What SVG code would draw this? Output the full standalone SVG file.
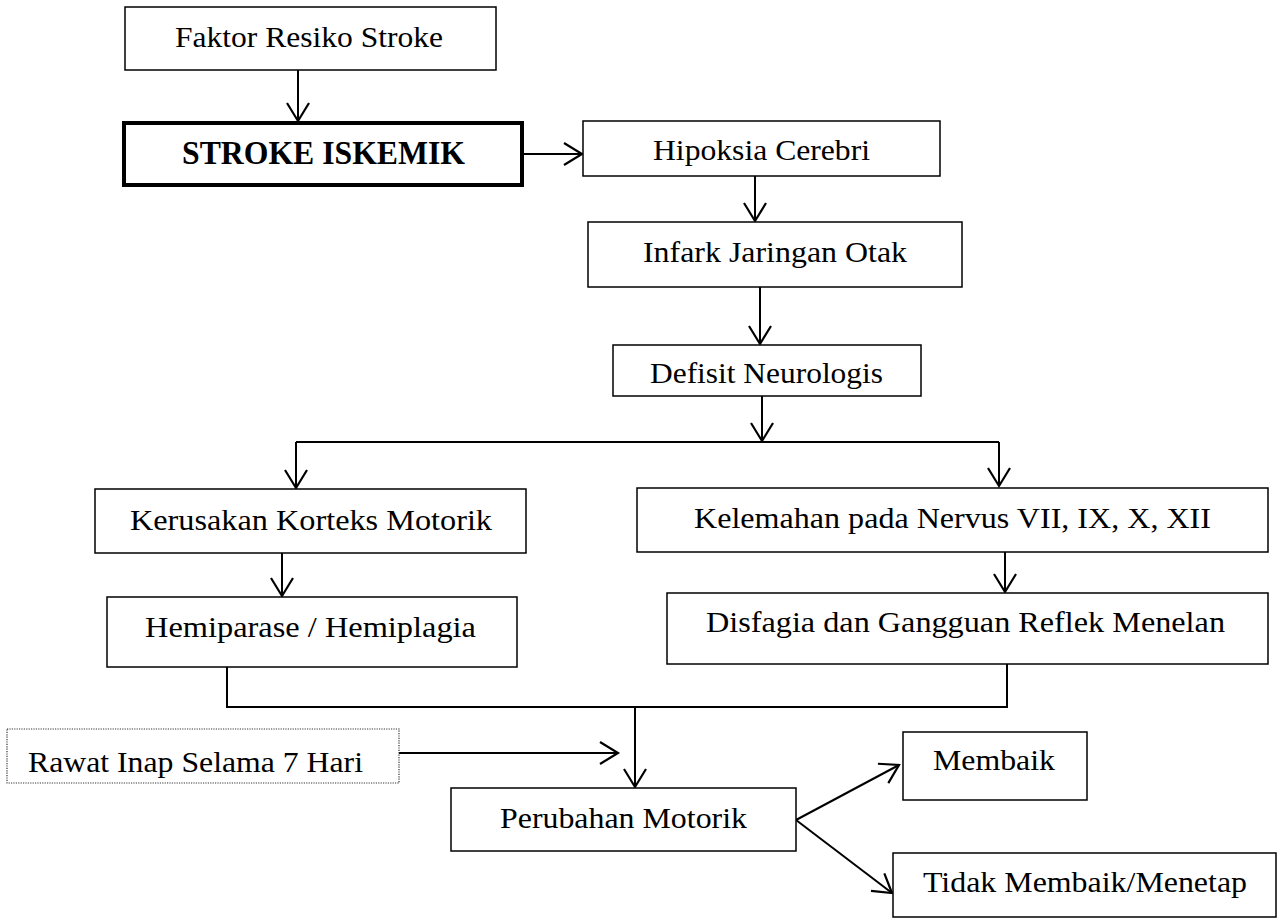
<svg xmlns="http://www.w3.org/2000/svg" width="1283" height="920" viewBox="0 0 1283 920">
<style>
.box{fill:#fff;stroke:#000;stroke-width:1.5}
.thick{fill:#fff;stroke:#000;stroke-width:4}
.dot{fill:#fff;stroke:#333;stroke-width:1.2;stroke-dasharray:1.2 1.2}
.t{font-family:"Liberation Serif","Times New Roman",serif;font-size:30px;fill:#000}
.b{font-family:"Liberation Serif","Times New Roman",serif;font-size:33px;font-weight:bold;fill:#000}
.c{fill:none;stroke:#000;stroke-width:2}
</style>
<defs>
<marker id="arr" markerUnits="userSpaceOnUse" markerWidth="26" markerHeight="26" viewBox="-21 -13 23 26" refX="0" refY="0" orient="auto">
<path d="M-18,-11 L0,0 L-18,11" fill="none" stroke="#000" stroke-width="2.2"/>
</marker>
</defs>
<g id="connectors">
<line class="c" x1="298" y1="70" x2="298" y2="121" marker-end="url(#arr)"/>
<line class="c" x1="524" y1="154" x2="582" y2="154" marker-end="url(#arr)"/>
<line class="c" x1="755" y1="176" x2="755" y2="221" marker-end="url(#arr)"/>
<line class="c" x1="760" y1="287" x2="760" y2="344" marker-end="url(#arr)"/>
<line class="c" x1="762" y1="396" x2="762" y2="441" marker-end="url(#arr)"/>
<line class="c" x1="296" y1="442" x2="999" y2="442"/>
<line class="c" x1="296" y1="442" x2="296" y2="488" marker-end="url(#arr)"/>
<line class="c" x1="999" y1="442" x2="999" y2="486" marker-end="url(#arr)"/>
<line class="c" x1="282" y1="553" x2="282" y2="596" marker-end="url(#arr)"/>
<line class="c" x1="1005" y1="552" x2="1005" y2="592" marker-end="url(#arr)"/>
<polyline class="c" points="227,667 227,707 1007,707 1007,664"/>
<line class="c" x1="635" y1="707" x2="635" y2="787" marker-end="url(#arr)"/>
<line class="c" x1="399" y1="753" x2="618" y2="753" marker-end="url(#arr)"/>
<line class="c" x1="796" y1="820" x2="899" y2="765" marker-end="url(#arr)"/>
<line class="c" x1="796" y1="820" x2="892" y2="893" marker-end="url(#arr)"/>
</g>
<g id="faktor"><rect class="box" x="125" y="7" width="371" height="63"/><text class="t" x="175" y="47" textLength="268" lengthAdjust="spacingAndGlyphs">Faktor Resiko Stroke</text></g>
<g id="stroke"><rect class="thick" x="124" y="123" width="398" height="62"/><text class="b" x="182" y="164" textLength="283" lengthAdjust="spacingAndGlyphs">STROKE ISKEMIK</text></g>
<g id="hipoksia"><rect class="box" x="583" y="121" width="357" height="55"/><text class="t" x="653" y="160" textLength="217" lengthAdjust="spacingAndGlyphs">Hipoksia Cerebri</text></g>
<g id="infark"><rect class="box" x="588" y="222" width="374" height="65"/><text class="t" x="643" y="262" textLength="264" lengthAdjust="spacingAndGlyphs">Infark Jaringan Otak</text></g>
<g id="defisit"><rect class="box" x="613" y="345" width="308" height="51"/><text class="t" x="650" y="383" textLength="233" lengthAdjust="spacingAndGlyphs">Defisit Neurologis</text></g>
<g id="kerusakan"><rect class="box" x="95" y="489" width="431" height="64"/><text class="t" x="130" y="530" textLength="362" lengthAdjust="spacingAndGlyphs">Kerusakan Korteks Motorik</text></g>
<g id="kelemahan"><rect class="box" x="637" y="488" width="631" height="64"/><text class="t" x="694" y="528" textLength="517" lengthAdjust="spacingAndGlyphs">Kelemahan pada Nervus VII, IX, X, XII</text></g>
<g id="hemiparase"><rect class="box" x="107" y="597" width="410" height="70"/><text class="t" x="145" y="637" textLength="331" lengthAdjust="spacingAndGlyphs">Hemiparase / Hemiplagia</text></g>
<g id="disfagia"><rect class="box" x="667" y="593" width="601" height="71"/><text class="t" x="706" y="632" textLength="519" lengthAdjust="spacingAndGlyphs">Disfagia dan Gangguan Reflek Menelan</text></g>
<g id="rawat"><rect class="dot" x="7" y="729" width="392" height="54"/><text class="t" x="28" y="772" textLength="335" lengthAdjust="spacingAndGlyphs">Rawat Inap Selama 7 Hari</text></g>
<g id="perubahan"><rect class="box" x="451" y="788" width="345" height="63"/><text class="t" x="500" y="828" textLength="247" lengthAdjust="spacingAndGlyphs">Perubahan Motorik</text></g>
<g id="membaik"><rect class="box" x="903" y="732" width="184" height="68"/><text class="t" x="933" y="770" textLength="122" lengthAdjust="spacingAndGlyphs">Membaik</text></g>
<g id="tidak"><rect class="box" x="893" y="853" width="383" height="64"/><text class="t" x="923" y="892" textLength="324" lengthAdjust="spacingAndGlyphs">Tidak Membaik/Menetap</text></g>
</svg>
